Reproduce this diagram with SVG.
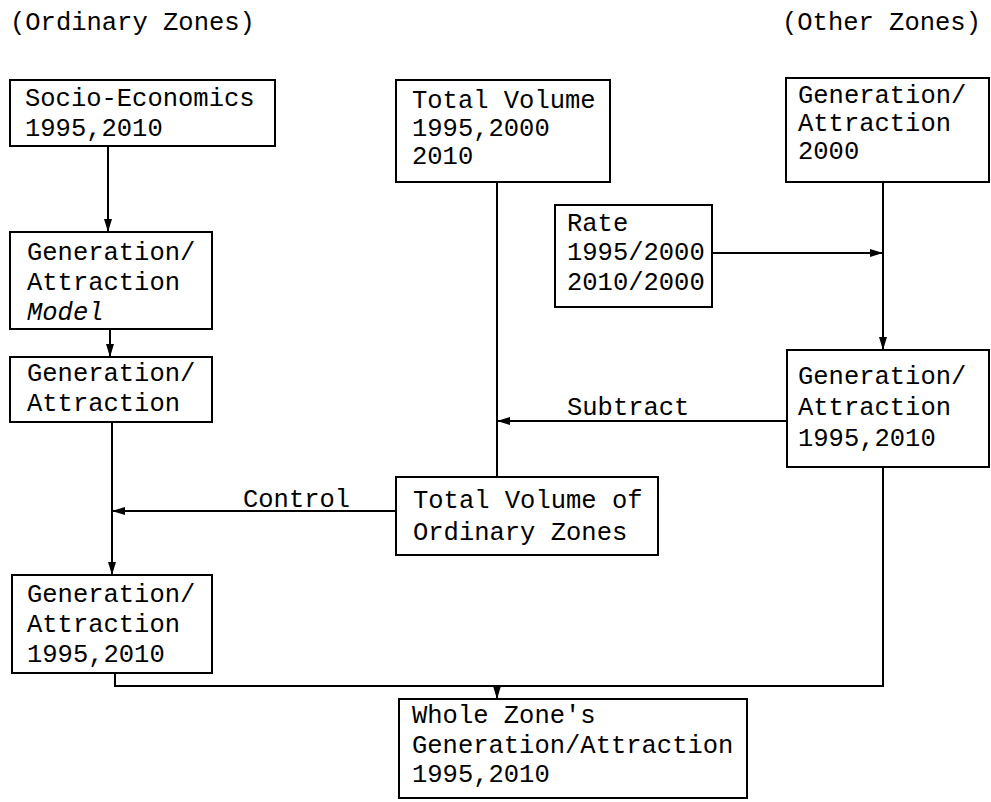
<svg xmlns="http://www.w3.org/2000/svg" width="991" height="802" viewBox="0 0 991 802">
<style>
  .box { fill: #ffffff; stroke: #000000; stroke-width: 2; }
  .t { font-family: "Liberation Mono", "DejaVu Sans Mono", monospace; font-size: 25.5px; fill: #000000; }
  .it { font-style: italic; }
  .c { fill: none; stroke: #000000; stroke-width: 2; }
  .a { marker-end: url(#ah); }
</style>
<defs>
  <marker id="ah" markerUnits="userSpaceOnUse" markerWidth="14" markerHeight="10" refX="13" refY="5" orient="auto">
    <path d="M0,1 L13,5 L0,9 Z" fill="#000000"/>
  </marker>
</defs>
<rect x="0" y="0" width="991" height="802" fill="#ffffff"/>
<text class="t" x="10" y="30">(Ordinary Zones)</text>
<text class="t" x="782" y="30">(Other Zones)</text>

<g id="connectors">
  <line class="c a" x1="108" y1="146" x2="108" y2="232"/>
  <line class="c a" x1="110" y1="329" x2="110" y2="357"/>
  <line class="c a" x1="112" y1="422" x2="112" y2="575"/>
  <line class="c a" x1="396" y1="511" x2="112" y2="511"/>
  <line class="c" x1="497" y1="182" x2="497" y2="477"/>
  <line class="c a" x1="787" y1="421" x2="497" y2="421"/>
  <line class="c a" x1="883" y1="182" x2="883" y2="350"/>
  <line class="c a" x1="712" y1="253" x2="883" y2="253"/>
  <polyline class="c" points="115,673 115,686 883,686 883,467"/>
  <line class="c a" x1="497" y1="686" x2="497" y2="699"/>
  <text class="t" x="243" y="507">Control</text>
  <text class="t" x="567" y="415">Subtract</text>
</g>

<g id="socio">
  <rect class="box" x="10" y="80" width="265" height="66"/>
  <text class="t" x="25" y="106">Socio-Economics</text>
  <text class="t" x="25" y="136">1995,2010</text>
</g>
<g id="model">
  <rect class="box" x="10" y="232" width="202" height="97"/>
  <text class="t" x="27" y="260">Generation/</text>
  <text class="t" x="27" y="290">Attraction</text>
  <text class="t it" x="27" y="320">Model</text>
</g>
<g id="ga">
  <rect class="box" x="10" y="357" width="202" height="65"/>
  <text class="t" x="27" y="381">Generation/</text>
  <text class="t" x="27" y="411">Attraction</text>
</g>
<g id="ga-ord">
  <rect class="box" x="12" y="575" width="200" height="98"/>
  <text class="t" x="27" y="602">Generation/</text>
  <text class="t" x="27" y="632">Attraction</text>
  <text class="t" x="27" y="662">1995,2010</text>
</g>
<g id="total">
  <rect class="box" x="396" y="80" width="214" height="102"/>
  <text class="t" x="412" y="108">Total Volume</text>
  <text class="t" x="412" y="136">1995,2000</text>
  <text class="t" x="412" y="164">2010</text>
</g>
<g id="rate">
  <rect class="box" x="555" y="205" width="157" height="102"/>
  <text class="t" x="567" y="231">Rate</text>
  <text class="t" x="567" y="260">1995/2000</text>
  <text class="t" x="567" y="290">2010/2000</text>
</g>
<g id="ga-other-2000">
  <rect class="box" x="786" y="78" width="203" height="104"/>
  <text class="t" x="798" y="103">Generation/</text>
  <text class="t" x="798" y="131">Attraction</text>
  <text class="t" x="798" y="159">2000</text>
</g>
<g id="ga-other">
  <rect class="box" x="787" y="350" width="202" height="117"/>
  <text class="t" x="798" y="384">Generation/</text>
  <text class="t" x="798" y="415">Attraction</text>
  <text class="t" x="798" y="446">1995,2010</text>
</g>
<g id="tvoz">
  <rect class="box" x="396" y="477" width="262" height="78"/>
  <text class="t" x="413" y="508">Total Volume of</text>
  <text class="t" x="413" y="540">Ordinary Zones</text>
</g>
<g id="whole">
  <rect class="box" x="399" y="699" width="348" height="99"/>
  <text class="t" x="412" y="723">Whole Zone's</text>
  <text class="t" x="412" y="753">Generation/Attraction</text>
  <text class="t" x="412" y="782">1995,2010</text>
</g>
</svg>
